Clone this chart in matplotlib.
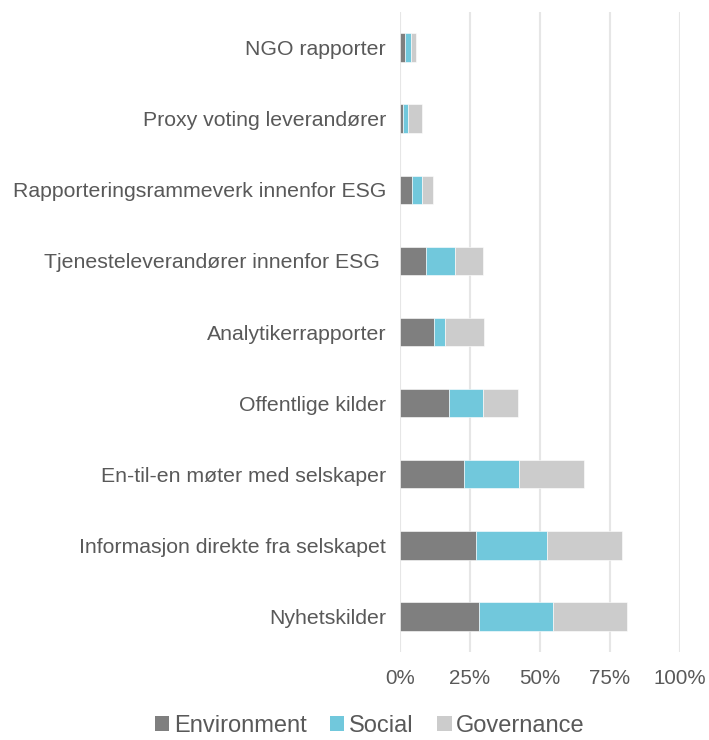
import matplotlib
matplotlib.use("Agg")
import matplotlib.pyplot as plt
from matplotlib.ticker import FuncFormatter
from matplotlib.patches import Patch

plt.rcParams['font.family'] = ['Liberation Sans', 'DejaVu Sans']

categories = [
    "NGO rapporter",
    "Proxy voting leverandører",
    "Rapporteringsrammeverk innenfor ESG",
    "Tjenesteleverandører innenfor ESG ",
    "Analytikerrapporter",
    "Offentlige kilder",
    "En-til-en møter med selskaper",
    "Informasjon direkte fra selskapet",
    "Nyhetskilder",
]
environment = [1.8, 1.0, 4.2, 9.2, 12.2, 17.6, 22.8, 27.0, 28.1]
social = [2.1, 1.7, 3.7, 10.6, 3.8, 12.2, 19.8, 25.4, 26.4]
governance = [1.9, 5.0, 3.8, 9.8, 13.9, 12.2, 23.2, 26.9, 26.7]
series_names = ["Environment", "Social", "Governance"]
colors = ["#7F7F7F", "#71C8DC", "#CCCCCC"]
xticks = [0, 25, 50, 75, 100]

fig = plt.figure(figsize=(7.09, 7.40), dpi=100)
ax = fig.add_axes([400/709, 1-652/740, 280/709, 640/740])

y = list(range(len(categories)))
left = [0]*len(categories)
for vals, name, c in zip([environment, social, governance], series_names, colors):
    ax.barh(y, vals, left=left, height=0.4, color=c, label=name,
            edgecolor='white', linewidth=0.4, zorder=3)
    left = [a+b for a, b in zip(left, vals)]

ax.set_ylim(len(categories)-0.5, -0.5)
ax.set_xlim(0, 100)
ax.set_yticks(y)
ax.set_yticklabels(categories, fontsize=15.3, color="#595959")
ax.set_xticks(xticks)
ax.xaxis.set_major_formatter(FuncFormatter(lambda v, p: f"{int(v)}%"))
ax.tick_params(axis='x', labelsize=14.8, labelcolor="#595959", length=0, pad=12)
ax.tick_params(axis='y', length=0, pad=10)
ax.grid(axis='x', color="#E6E6E6", linewidth=1.5, zorder=0)
for s in ax.spines.values():
    s.set_visible(False)

handles = [Patch(facecolor=c, edgecolor='none') for c in colors]
fig.legend(handles, series_names, loc='center', bbox_to_anchor=(370/709, 1-726/740),
           ncol=3, frameon=False, fontsize=17, handlelength=0.6, handleheight=0.6,
           handletextpad=0.2, columnspacing=1.0, labelcolor="#595959",
           borderpad=0.1)

fig.savefig("out.png", dpi=100)
